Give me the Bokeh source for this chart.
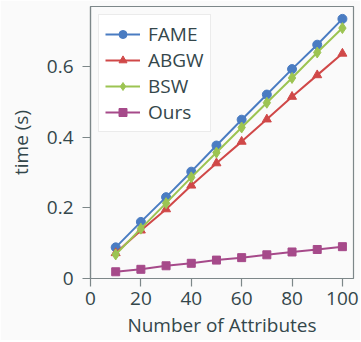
from bokeh.plotting import figure
from bokeh.models import Range1d, Legend, LegendItem, FixedTicker
from bokeh.embed import file_html
from bokeh.resources import INLINE

attrs = [10, 20, 30, 40, 50, 60, 70, 80, 90, 100]
fame = [0.088, 0.160, 0.230, 0.302, 0.376, 0.449, 0.520, 0.592, 0.661, 0.734]
abgw = [0.072, 0.136, 0.196, 0.263, 0.326, 0.387, 0.450, 0.514, 0.575, 0.636]
bsw = [0.068, 0.141, 0.213, 0.286, 0.356, 0.427, 0.497, 0.567, 0.639, 0.708]
ours = [0.019, 0.026, 0.036, 0.043, 0.052, 0.059, 0.067, 0.075, 0.082, 0.090]

series = [
    ("FAME", fame, "#4a7cc2", "circle", 9),
    ("ABGW", abgw, "#d04848", "triangle", 9),
    ("BSW", bsw, "#9cc452", "diamond", 11),
    ("Ours", ours, "#a64a8a", "square", 8),
]

FONT = "Open Sans"
FS = "19px"
TXT = "#34474b"
GRID = "#7d8789"
BG = "#fafafa"

p = figure(width=360, height=340, output_backend="svg", toolbar_location=None,
           x_range=Range1d(0, 104.4), y_range=Range1d(0, 0.769),
           min_border_left=90, min_border_right=7, min_border_top=6, min_border_bottom=61)
p.background_fill_color = BG
p.border_fill_color = BG
p.outline_line_color = GRID
p.outline_line_width = 1.2
p.grid.visible = False

items = []
for name, vals, col, mk, sz in series:
    r1 = p.line(attrs, vals, line_color=col, line_width=2)
    r2 = p.scatter(attrs, vals, marker=mk, size=sz, fill_color=col, line_color=col)
    items.append(LegendItem(label=name, renderers=[r1, r2]))

leg = Legend(items=items, location="top_left")
leg.margin = 8
leg.padding = 6
leg.spacing = 0
leg.glyph_width = 35
leg.glyph_height = 20
leg.label_height = 20
leg.label_standoff = 8
leg.label_text_font = FONT
leg.label_text_font_size = FS
leg.label_text_color = TXT
leg.border_line_color = "#d8d8d8"
leg.background_fill_color = "#ffffff"
leg.background_fill_alpha = 1.0
p.add_layout(leg)

for ax in (p.xaxis, p.yaxis):
    ax.axis_line_color = GRID
    ax.axis_line_width = 1.2
    ax.major_tick_line_color = GRID
    ax.major_tick_line_width = 1.2
    ax.major_tick_out = 8
    ax.major_tick_in = 0
    ax.minor_tick_line_color = None
    ax.major_label_text_font = FONT
    ax.major_label_text_font_size = FS
    ax.major_label_text_color = TXT
    ax.axis_label_text_font = FONT
    ax.axis_label_text_font_size = FS
    ax.axis_label_text_color = TXT
    ax.axis_label_text_font_style = "normal"

p.xaxis.ticker = FixedTicker(ticks=[0, 20, 40, 60, 80, 100])
p.yaxis.ticker = FixedTicker(ticks=[0, 0.2, 0.4, 0.6])
p.yaxis.major_label_overrides = {0: "0", 0.2: "0.2", 0.4: "0.4", 0.6: "0.6"}
p.xaxis.axis_label = "Number of Attributes"
p.yaxis.axis_label = "time (s)"
p.xaxis.major_label_standoff = 5
p.yaxis.major_label_standoff = 9
p.xaxis.axis_label_standoff = 4
p.yaxis.axis_label_standoff = 10

open("out.html", "w").write(file_html(p, INLINE))
